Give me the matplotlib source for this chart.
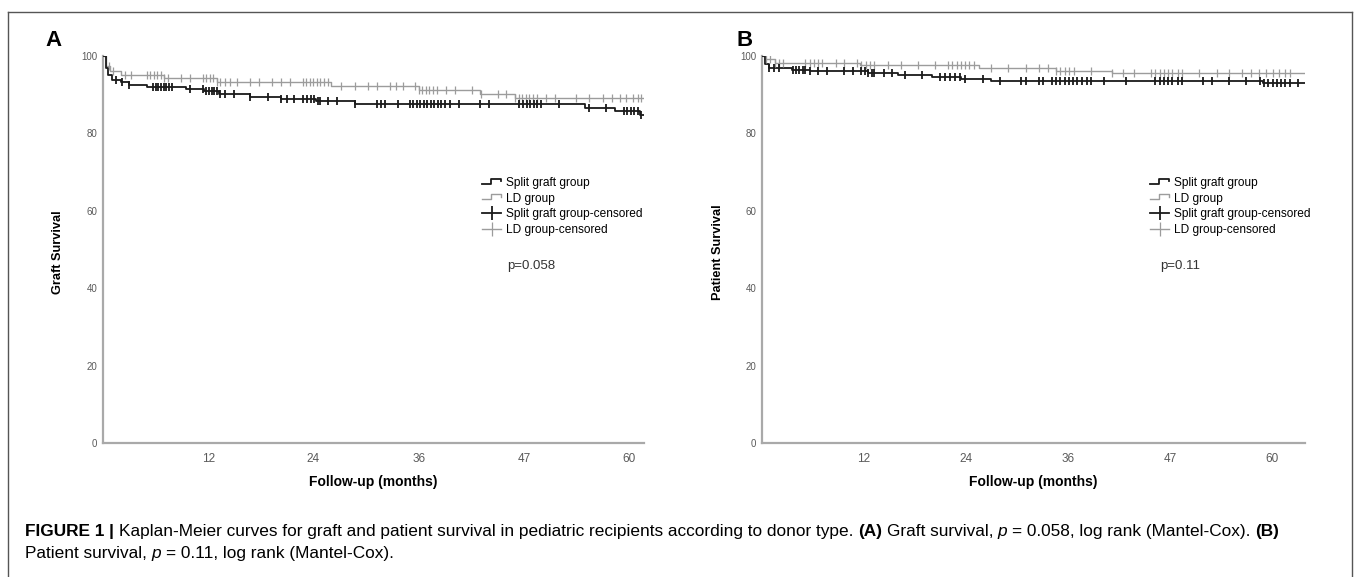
import matplotlib
matplotlib.use('Agg')
import matplotlib.pyplot as plt
import numpy as np
from matplotlib.lines import Line2D
from matplotlib.legend_handler import HandlerBase

plt.rcParams['font.family'] = ['Liberation Sans', 'DejaVu Sans']

# ---------------------------------------------------------------------------
# data (step times in months, survival in %)
# ---------------------------------------------------------------------------
# A - graft survival
a_split_t = [0, 0.3, 0.6, 1.0, 2.0, 3.0, 5.0, 9.5, 11.5, 13.2, 16.8, 20.3, 24.3, 28.7, 55.0, 58.4, 61.3]
a_split_s = [100, 97.0, 95.0, 93.8, 93.3, 92.5, 91.9, 91.6, 91.0, 90.1, 89.5, 88.9, 88.4, 87.5, 86.6, 85.8, 84.7]
a_split_cens = [1.5, 2.2, 3.0, 5.7, 6.0, 6.3, 6.6, 6.9, 7.2, 7.5, 7.9, 9.9, 11.4, 11.8, 12.1, 12.4,
                12.7, 13.0, 13.4, 13.9, 14.9, 16.8, 18.8, 20.3, 21.0, 21.8, 22.8, 23.3, 23.7, 24.1,
                24.5, 24.8, 25.7, 26.7, 28.7, 31.2, 31.7, 32.2, 33.7, 35.0, 35.4, 35.8, 36.2, 36.6,
                37.0, 37.4, 37.8, 38.2, 38.6, 39.0, 39.6, 40.6, 43.0, 44.0, 47.5, 47.9, 48.3, 48.7,
                49.1, 49.5, 50.0, 52.0, 55.4, 57.4, 59.4, 59.8, 60.2, 60.6, 61.0, 61.4]
a_ld_t = [0, 0.3, 0.8, 2.0, 7.0, 13.0, 26.0, 36.0, 43.0, 47.0]
a_ld_s = [100, 97.5, 96.0, 95.1, 94.2, 93.4, 92.2, 91.2, 90.3, 89.2]
a_ld_cens = [0.7, 1.1, 2.5, 3.2, 5.0, 5.4, 5.8, 6.2, 6.6, 7.0, 7.4, 8.9, 9.9, 11.4, 11.8, 12.2, 12.6,
             13.0, 13.4, 13.9, 14.5, 15.3, 16.8, 17.8, 19.3, 20.3, 21.3, 22.8, 23.2, 23.6, 24.0,
             24.4, 24.8, 25.2, 25.7, 27.2, 28.7, 30.2, 31.2, 32.7, 33.4, 34.2, 35.6, 36.0, 36.4,
             36.8, 37.2, 37.6, 38.1, 39.1, 40.1, 42.1, 43.1, 45.0, 46.0, 47.0, 47.4, 47.8, 48.2,
             48.6, 49.0, 49.5, 50.5, 51.5, 54.0, 55.4, 57.0, 58.0, 59.0, 59.7, 60.4, 61.0, 61.4]

# B - patient survival
b_split_t = [0, 0.3, 0.8, 3.5, 5.6, 12.5, 16.0, 20.0, 23.4, 27.0, 59.0]
b_split_s = [100, 98.0, 96.8, 96.5, 96.1, 95.7, 95.1, 94.5, 94.1, 93.6, 92.9]
b_split_cens = [0.8, 1.4, 2.0, 3.6, 4.0, 4.4, 4.8, 5.1, 5.6, 6.6, 7.6, 9.7, 10.7, 11.7, 12.1, 12.5,
                12.9, 13.2, 14.3, 15.3, 16.8, 18.8, 20.9, 21.5, 22.1, 22.7, 23.3, 23.9, 26.0, 28.0,
                30.5, 31.1, 32.6, 33.1, 34.1, 34.6, 35.1, 35.6, 36.1, 36.6, 37.1, 37.6, 38.2, 38.7,
                40.2, 42.8, 46.3, 46.8, 47.3, 47.8, 48.3, 48.9, 49.4, 51.9, 53.0, 55.0, 57.0, 58.6,
                59.1, 59.6, 60.1, 60.6, 61.1, 61.6, 62.1, 63.1]
b_ld_t = [0, 0.3, 1.5, 11.5, 25.5, 34.6, 41.2]
b_ld_s = [100, 99.2, 98.3, 97.8, 96.8, 96.1, 95.5]
b_ld_cens = [0.5, 1.0, 1.5, 2.0, 2.5, 5.1, 5.6, 6.1, 6.6, 7.1, 8.7, 9.7, 11.2, 11.7, 12.2, 12.7, 13.2,
             14.8, 16.3, 18.3, 20.4, 21.9, 22.4, 22.9, 23.4, 23.9, 24.4, 24.9, 27.0, 29.0, 31.1,
             32.6, 33.6, 34.6, 35.1, 35.6, 36.1, 36.7, 38.7, 41.2, 42.5, 43.8, 45.8, 46.3, 46.8,
             47.3, 47.8, 48.3, 48.9, 49.4, 51.4, 53.5, 55.0, 56.5, 57.5, 58.5, 59.3, 60.1, 60.8,
             61.5, 62.1]

x_ticks = [12, 24, 36, 48, 60]
x_ticklabels = ['12', '24', '36', '47', '60']
y_ticks = [0, 20, 40, 60, 80, 100]
legend_labels = ['Split graft group', 'LD group', 'Split graft group-censored', 'LD group-censored']

BLACK = '#1a1a1a'
GREY = '#9c9c9c'
AXIS = '#a9a9a9'
TICK = '#5a5a5a'

W, H = 1357, 577
fig = plt.figure(figsize=(W / 100, H / 100), dpi=100)


def px(x, y):
    return x / W, 1 - y / H


class StepHandler(HandlerBase):
    # little "_|‾" symbol like the SPSS legend
    def create_artists(self, legend, orig, xd, yd, w, h, fs, trans):
        x0, y0 = -xd, -yd
        xs = [x0, x0 + w * 0.45, x0 + w * 0.45, x0 + w, x0 + w]
        ys = [y0 + h * 0.25, y0 + h * 0.25, y0 + h * 0.85, y0 + h * 0.85, y0 + h * 0.6]
        return [Line2D(xs, ys, color=orig.get_color(), lw=orig.get_linewidth(), transform=trans)]


def km(ax, t, s, cens, color, xmax, lw, mew):
    t = np.append(np.array(t, float), xmax)
    s = np.append(np.array(s, float), s[-1])
    ax.step(t, s, where='post', color=color, lw=lw, zorder=3)
    idx = np.searchsorted(t, cens, side='right') - 1
    ax.plot(cens, s[idx], ls='none', marker='|', ms=6, mew=mew, color=color, zorder=4)


def panel(left, right, xmax, curves, letter, letter_x, ylab, ylab_x, leg_x, p_txt, p_x):
    l, b = px(left, 443)
    r, t = px(right, 56)
    ax = fig.add_axes([l, b, r - l, t - b])
    for (tt, ss, cc, col, lw, mew) in curves:
        km(ax, tt, ss, cc, col, xmax, lw, mew)
    ax.set_xlim(0, xmax)
    ax.set_ylim(0, 100)
    ax.set_xticks(x_ticks)
    ax.set_xticklabels(x_ticklabels)
    ax.set_yticks(y_ticks)
    for sp in ['top', 'right']:
        ax.spines[sp].set_visible(False)
    for sp in ['left', 'bottom']:
        ax.spines[sp].set_color(AXIS)
        ax.spines[sp].set_linewidth(1.6)
    ax.tick_params(axis='both', length=0, labelcolor=TICK)
    ax.tick_params(axis='x', pad=7, labelsize=8.5)
    ax.tick_params(axis='y', pad=4, labelsize=7)
    ax.patch.set_alpha(0)

    fig.text(*px(letter_x, 40), letter, fontsize=16, fontweight='bold', va='center', ha='left')
    fig.text(*px(ylab_x, 252), ylab, fontsize=9.2, fontweight='bold', rotation=90,
             va='center', ha='center')
    fig.text(*px((left + right) / 2, 482), 'Follow-up (months)', fontsize=10,
             fontweight='bold', va='center', ha='center')

    handles = [Line2D([], [], color=BLACK, lw=1.3), Line2D([], [], color=GREY, lw=1.0),
               Line2D([], [], color=BLACK, lw=1.3, marker='|', ms=10, mew=1.3),
               Line2D([], [], color=GREY, lw=1.0, marker='|', ms=10, mew=0.9)]
    fig.legend(handles, legend_labels, loc='upper left', bbox_to_anchor=px(leg_x, 177),
               frameon=False, fontsize=8.6, handlelength=1.6, handletextpad=0.4,
               labelspacing=0.3, borderpad=0, borderaxespad=0,
               handler_map={handles[0]: StepHandler(), handles[1]: StepHandler()})
    fig.text(*px(p_x, 266), p_txt, fontsize=9.5, va='center', ha='left', color='#333333')
    return ax


panel(103, 644, 61.7,
      [(a_ld_t, a_ld_s, a_ld_cens, GREY, 1.0, 0.9),
       (a_split_t, a_split_s, a_split_cens, BLACK, 1.3, 1.3)],
      'A', 45, 'Graft Survival', 58, 482, 'p=0.058', 507)
panel(762, 1305, 63.9,
      [(b_ld_t, b_ld_s, b_ld_cens, GREY, 1.0, 0.9),
       (b_split_t, b_split_s, b_split_cens, BLACK, 1.3, 1.3)],
      'B', 736, 'Patient Survival', 718, 1150, 'p=0.11', 1160)

# frame around the figure
frame = dict(color='#555555', lw=1.0, transform=fig.transFigure)
fig.add_artist(Line2D([px(8, 0)[0], px(1352, 0)[0]], [px(0, 12)[1]] * 2, **frame))
fig.add_artist(Line2D([px(8, 0)[0]] * 2, [px(0, 12)[1], 0], **frame))
fig.add_artist(Line2D([px(1352, 0)[0]] * 2, [px(0, 12)[1], 0], **frame))

# caption with mixed weights
renderer = fig.canvas.get_renderer()
CAP = 12.4


def width_of(s, **kw):
    t = fig.text(0, 0, s, fontsize=CAP, **kw)
    w = t.get_window_extent(renderer).width
    t.remove()
    return w


space = width_of('x x') - width_of('xx')


def rich_line(x, y, parts):
    for i, (s, kw) in enumerate(parts):
        t = fig.text(*px(x, y), s, fontsize=CAP, va='baseline', ha='left', **kw)
        x += t.get_window_extent(renderer).width
        if i < len(parts) - 1 and not parts[i + 1][0].startswith(','):
            x += space


B_ = dict(fontweight='bold')
N_ = dict()
I_ = dict(fontstyle='italic')
rich_line(25, 536, [('FIGURE 1', B_), ('|', B_),
                    ('Kaplan-Meier curves for graft and patient survival in pediatric recipients '
                     'according to donor type.', N_), ('(A)', B_), ('Graft survival,', N_),
                    ('p', I_), ('= 0.058, log rank (Mantel-Cox).', N_), ('(B)', B_)])
rich_line(25, 558, [('Patient survival,', N_), ('p', I_), ('= 0.11, log rank (Mantel-Cox).', N_)])

fig.savefig('out.png', dpi=100)
